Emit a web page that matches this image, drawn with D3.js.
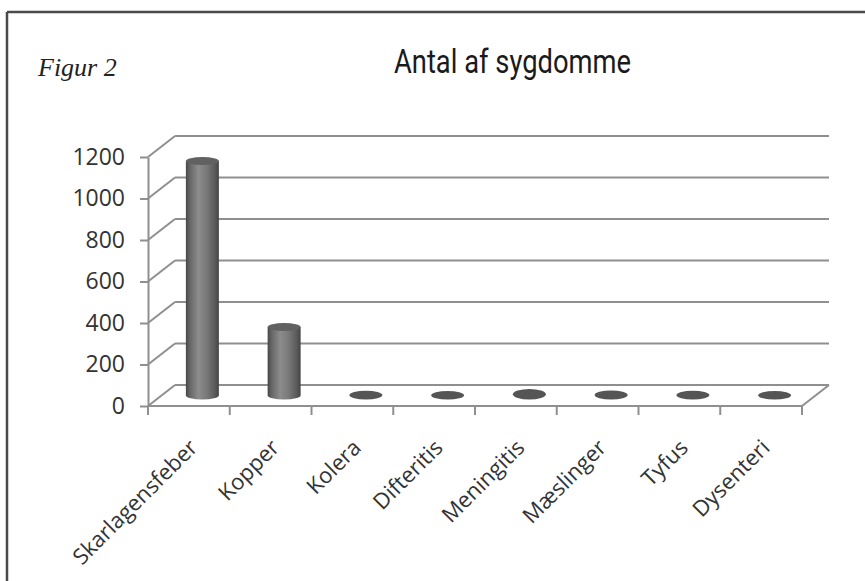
<!DOCTYPE html>
<html>
<head>
<meta charset="utf-8">
<script src="https://cdn.jsdelivr.net/npm/d3@7"></script>
<style>
  html, body { margin: 0; padding: 0; background: #fff; }
  svg { display: block; }
</style>
</head>
<body>
<svg id="chart" width="865" height="581"></svg>
<script>
// ---- data ----
const categories = ["Skarlagensfeber", "Kopper", "Kolera", "Difteritis", "Meningitis", "Mæslinger", "Tyfus", "Dysenteri"];
const values = [1130, 330, 4, 3, 12, 5, 4, 3];
const yTickValues = [0, 200, 400, 600, 800, 1000, 1200];
const chartTitle = "Antal af sygdomme";
const figureLabel = "Figur 2";

(function () {
// ---- layout ----
const svg = d3.select("#chart");
const W = 865, H = 581;
const plotLeft = 148, plotRight = 802, plotBottom = 406, plotTop = 157;
const depthX = 27, depthY = -21;
const gridColor = "#8f8f8f";

const x = d3.scaleBand().domain(categories).range([plotLeft, plotRight]).padding(0);
const y = d3.scaleLinear().domain([0, 1200]).range([plotBottom, plotTop]);

// frame
svg.append("line").attr("x1", 7).attr("y1", 12).attr("x2", W).attr("y2", 12)
  .attr("stroke", "#4a4a4a").attr("stroke-width", 2.5);
svg.append("line").attr("x1", 7).attr("y1", 12).attr("x2", 7).attr("y2", H)
  .attr("stroke", "#4a4a4a").attr("stroke-width", 2.5);

// titles
svg.append("text").attr("x", 38).attr("y", 76)
  .attr("font-family", "'Liberation Serif', 'DejaVu Serif', serif")
  .attr("font-style", "italic").attr("font-size", 26).attr("fill", "#222")
  .text(figureLabel);
svg.append("text").attr("x", 394).attr("y", 73)
  .attr("font-family", "Roboto, 'Liberation Sans', sans-serif")
  .attr("font-size", 33).attr("fill", "#1a1a1a")
  .attr("textLength", 237).attr("lengthAdjust", "spacingAndGlyphs")
  .text(chartTitle);

// gridlines (back wall) + diagonals (side wall)
const grid = svg.append("g").attr("stroke", gridColor).attr("stroke-width", 2).attr("fill", "none");
yTickValues.forEach(v => {
  grid.append("line")
    .attr("x1", plotLeft + depthX).attr("y1", y(v) + depthY)
    .attr("x2", plotRight + depthX).attr("y2", y(v) + depthY);
  grid.append("line")
    .attr("x1", plotLeft).attr("y1", y(v))
    .attr("x2", plotLeft + depthX).attr("y2", y(v) + depthY);
});
// floor front edge and right diagonal
grid.append("line").attr("x1", plotLeft).attr("y1", y(0)).attr("x2", plotRight).attr("y2", y(0));
grid.append("line").attr("x1", plotRight).attr("y1", y(0)).attr("x2", plotRight + depthX).attr("y2", y(0) + depthY);

// y axis
const yAxis = d3.axisLeft(y).tickValues(yTickValues).tickFormat(d3.format("d"))
  .tickSize(8).tickSizeOuter(0).tickPadding(15);
const gy = svg.append("g").attr("transform", `translate(${plotLeft},0)`).call(yAxis);
gy.select(".domain").attr("stroke", gridColor).attr("stroke-width", 2);
gy.selectAll(".tick line").attr("stroke", gridColor).attr("stroke-width", 2);
gy.selectAll(".tick text")
  .attr("font-family", "'Open Sans', sans-serif").attr("font-size", 23).attr("fill", "#333");

// x ticks at category boundaries
const boundaries = categories.map(c => x(c)).concat([x.range()[1]]);
svg.append("g").selectAll("line").data(boundaries).join("line")
  .attr("x1", d => d).attr("x2", d => d)
  .attr("y1", y(0)).attr("y2", y(0) + 9)
  .attr("stroke", gridColor).attr("stroke-width", 2);

// category labels
svg.append("g").selectAll("text").data(categories).join("text")
  .attr("transform", d => `translate(${x(d) + x.bandwidth() / 2 + 10},${449}) rotate(-45)`)
  .attr("text-anchor", "end")
  .attr("font-family", "'Open Sans', sans-serif").attr("font-size", 22).attr("fill", "#333")
  .text(d => d);

// cylinders
const defs = svg.append("defs");
const grad = defs.append("linearGradient").attr("id", "cyl").attr("x1", "0").attr("x2", "1").attr("y1", "0").attr("y2", "0");
[[0, "#474747"], [0.12, "#666"], [0.38, "#8c8c8c"], [0.62, "#7a7a7a"], [0.88, "#5a5a5a"], [1, "#444"]]
  .forEach(([o, c]) => grad.append("stop").attr("offset", o).attr("stop-color", c));

const r = 16.5, ry = 4;
const bars = svg.append("g").selectAll("g").data(categories.map((c, i) => ({ c, v: values[i] }))).join("g");
bars.each(function (d) {
  const g = d3.select(this);
  const cx = x(d.c) + x.bandwidth() / 2 + depthX / 2;
  const base = y(0) + depthY / 2;
  const topY = y(d.v) + depthY / 2;
  if (base - topY > 5) {
    g.append("path")
      .attr("d", `M${cx - r},${topY} L${cx - r},${base} A${r},${ry} 0 0 0 ${cx + r},${base} L${cx + r},${topY} Z`)
      .attr("fill", "url(#cyl)");
    g.append("ellipse").attr("cx", cx).attr("cy", topY).attr("rx", r).attr("ry", ry)
      .attr("fill", "#616161");
  } else {
    const h = base - topY;
    g.append("ellipse").attr("cx", cx).attr("cy", base - h / 2).attr("rx", r).attr("ry", ry + h / 2)
      .attr("fill", "#555");
  }
});
})();
</script>
</body>
</html>
